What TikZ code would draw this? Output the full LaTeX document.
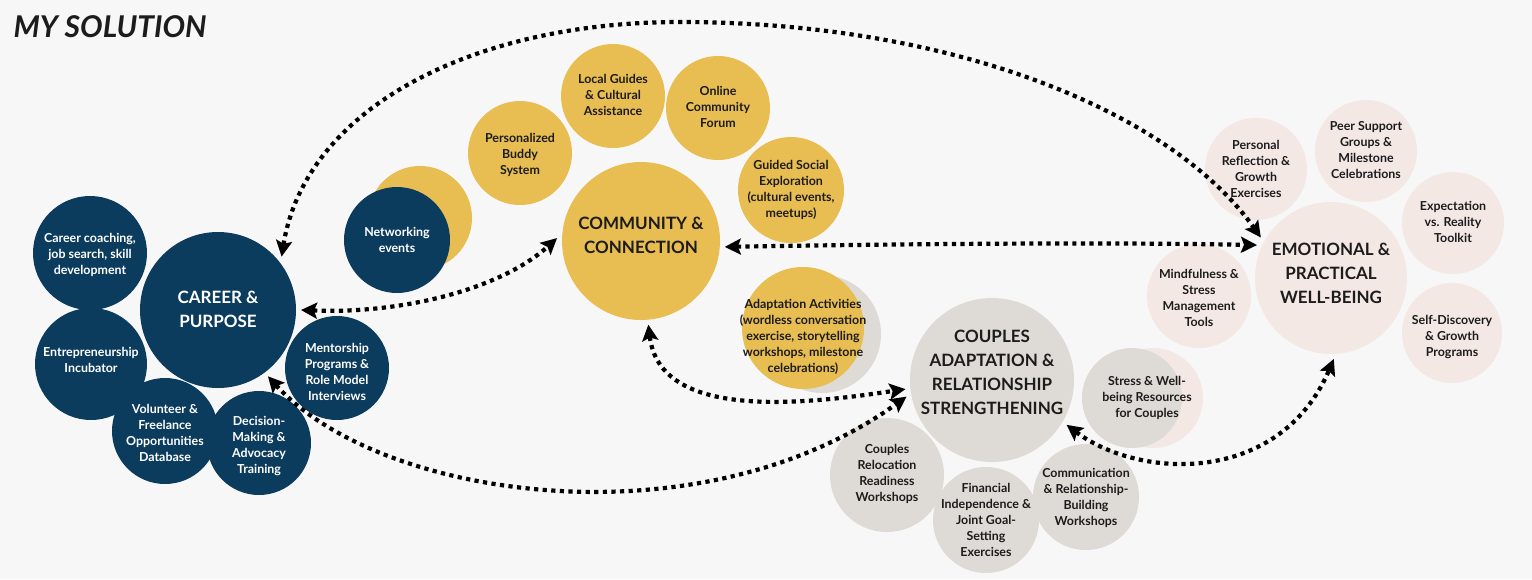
\documentclass[tikz,border=0pt]{standalone}
\usepackage{fontspec}
\setmainfont{Lato}
\usetikzlibrary{arrows.meta}
\definecolor{bg}{HTML}{F7F7F7}
\definecolor{navy}{HTML}{0B3C5D}
\definecolor{gold}{HTML}{E8BD52}
\definecolor{stone}{HTML}{DEDAD5}
\definecolor{blush}{HTML}{F4E8E5}
\definecolor{ink}{HTML}{1C1C1C}
\begin{document}
\begin{tikzpicture}[x=1pt,y=-1pt,
  disc/.style={circle, inner sep=0pt, outer sep=0pt, minimum size=#1},
  hubdisc/.style={circle, inner sep=0pt, outer sep=5pt, minimum size=#1},
  small/.style={align=center, font=\bfseries\fontsize{12.4}{16}\selectfont},
  big/.style={align=center, font=\bfseries\fontsize{17}{24}\selectfont},
  onnavy/.style={text=white},
  onlight/.style={text=ink},
  conn/.style={line width=4.2pt, dash pattern=on 4.2pt off 4.4pt, draw=black,
    {Stealth[length=16pt,width=16pt,inset=3pt]}-{Stealth[length=16pt,width=16pt,inset=3pt]}}
]
\useasboundingbox (0,0) rectangle (1532,579);
\fill[bg] (0,0) rectangle (1532,579);

\node[anchor=base west, font=\bfseries\itshape\fontsize{30}{34}\selectfont, text=ink] (title) at (10,37) {MY SOLUTION};

% ---------- career cluster ----------
\node[disc=104pt, fill=gold] (netback) at (420,218) {};
\node[disc=106pt, fill=navy] (net) at (397,240) {};
\node[small, onnavy] (net-t) at (397,240) {Networking\\events};

\node[disc=114pt, fill=navy] (cc) at (90,253) {};
\node[disc=112pt, fill=navy] (ent) at (91,364) {};
\node[disc=106pt, fill=navy] (vol) at (165,431) {};
\node[disc=104pt, fill=navy] (dec) at (259,443) {};
\node[disc=104pt, fill=navy] (men) at (337,368) {};
\node[hubdisc=156pt, fill=navy] (cp) at (218,310) {};
\node[small, onnavy] (cc-t) at (90,255) {Career coaching,\\job search, skill\\development};
\node[small, onnavy] (ent-t) at (91,360) {Entrepreneurship\\Incubator};
\node[small, onnavy] (vol-t) at (165,433) {Volunteer \&\\Freelance\\Opportunities\\Database};
\node[small, onnavy] (dec-t) at (259,446) {Decision-\\Making \&\\Advocacy\\Training};
\node[small, onnavy] (men-t) at (337,372) {Mentorship\\Programs \&\\Role Model\\Interviews};
\node[big, onnavy] (cp-t) at (218,309) {CAREER \&\\PURPOSE};

% ---------- community cluster ----------
\node[disc=104pt, fill=gold] (loc) at (613,96) {};
\node[disc=104pt, fill=gold] (onl) at (718,108) {};
\node[disc=104pt, fill=gold] (bud) at (520,153) {};
\node[disc=106pt, fill=gold] (gui) at (791,190) {};
\node[disc=118pt, fill=stone] (adaback) at (822,334) {};
\node[disc=122pt, fill=gold] (ada) at (803,328) {};
\node[hubdisc=158pt, fill=gold] (com) at (641,241) {};
\node[small, onlight] (loc-t) at (613,95) {Local Guides\\\& Cultural\\Assistance};
\node[small, onlight] (onl-t) at (718,107) {Online\\Community\\Forum};
\node[small, onlight] (bud-t) at (520,155) {Personalized\\Buddy\\System};
\node[small, onlight] (gui-t) at (791,190) {Guided Social\\Exploration\\(cultural events,\\meetups)};
\node[small, onlight] (ada-t) at (803,337) {Adaptation Activities\\(wordless conversation\\exercise, storytelling\\workshops, milestone\\celebrations)};
\node[big, onlight] (com-t) at (641,235) {COMMUNITY \&\\CONNECTION};

% ---------- couples cluster ----------
\node[disc=100pt, fill=blush] (strback) at (1153,398) {};
\node[disc=100pt, fill=stone] (str) at (1132,398) {};
\node[disc=114pt, fill=stone] (rel) at (887,475) {};
\node[disc=106pt, fill=stone] (fin) at (986,520) {};
\node[disc=106pt, fill=stone] (comm) at (1086,497) {};
\node[hubdisc=164pt, fill=stone] (cou) at (992,380) {};
\node[small, onlight] (str-t) at (1147,398) {Stress \& Well-\\being Resources\\for Couples};
\node[small, onlight] (rel-t) at (887,474) {Couples\\Relocation\\Readiness\\Workshops};
\node[small, onlight] (fin-t) at (986,520) {Financial\\Independence \&\\Joint Goal-\\Setting\\Exercises};
\node[small, onlight] (comm-t) at (1086,498) {Communication\\\& Relationship-\\Building\\Workshops};
\node[big, onlight] (cou-t) at (992,372) {COUPLES\\ADAPTATION \&\\RELATIONSHIP\\STRENGTHENING};

% ---------- emotional cluster ----------
\node[disc=102pt, fill=blush] (per) at (1256,169) {};
\node[disc=102pt, fill=blush] (peer) at (1366,151) {};
\node[disc=102pt, fill=blush] (exp) at (1453,223) {};
\node[disc=100pt, fill=blush] (self) at (1452,333) {};
\node[disc=104pt, fill=blush] (mind) at (1199,296) {};
\node[hubdisc=152pt, fill=blush] (emo) at (1331,278) {};
\node[small, onlight] (per-t) at (1256,169) {Personal\\Reflection \&\\Growth\\Exercises};
\node[small, onlight] (peer-t) at (1366,150) {Peer Support\\Groups \&\\Milestone\\Celebrations};
\node[small, onlight] (exp-t) at (1453,222) {Expectation\\vs. Reality\\Toolkit};
\node[small, onlight] (self-t) at (1452,337) {Self-Discovery\\\& Growth\\Programs};
\node[small, onlight] (mind-t) at (1199,298) {Mindfulness \&\\Stress\\Management\\Tools};
\node[big, onlight] (emo-t) at (1331,273) {EMOTIONAL \&\\PRACTICAL\\WELL-BEING};

% ---------- connectors ----------
\coordinate (peak) at (680,22);
\draw[conn] (cp.40) .. controls (305,110) and (470,22) .. (peak)
  .. controls (950,22) and (1170,110) .. (emo.150);
\draw[conn] (cp.0) .. controls (400,314) and (500,290) .. (com.178);
\draw[conn] (com.-4) .. controls (900,244) and (1100,242) .. (emo.156);
\draw[conn] (com.-85) .. controls (660,420) and (800,405) .. (cou.186);
\draw[conn] (cp.-53) .. controls (380,500) and (700,545) .. (cou.191);
\draw[conn] (cou.-31) .. controls (1140,480) and (1280,485) .. (emo.-88);
\end{tikzpicture}
\end{document}
